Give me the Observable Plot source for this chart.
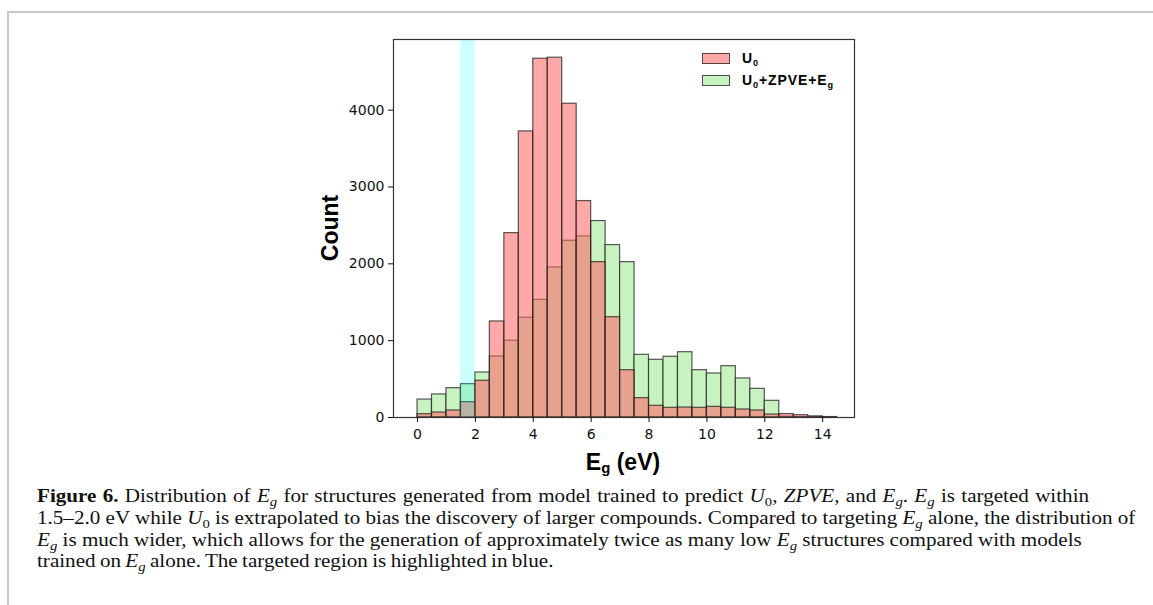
<!DOCTYPE html>
<html>
<head>
<meta charset="utf-8">
<script src="https://cdn.jsdelivr.net/npm/d3@7"></script>
<script src="https://cdn.jsdelivr.net/npm/@observablehq/plot@0.6"></script>
<style>
  html, body { margin: 0; padding: 0; background: #fff; }
  body { width: 1153px; height: 605px; position: relative; overflow: hidden; }
  #border { position: absolute; left: 7px; top: 11px; width: 1200px; height: 700px;
            border-top: 2px solid #c8c8c8; border-left: 2px solid #c8c8c8; }
  #chart { position: absolute; left: 0; top: 0; }
  .lbl { position: absolute; font-family: "Liberation Sans", Arial, sans-serif; font-weight: bold; color: #000; white-space: nowrap; }
  .lbl sub { font-size: 65%; vertical-align: -0.25em; line-height: 0; }
  #ylabel { left: 330px; top: 228px; font-size: 23px; transform: translate(-50%, -50%) rotate(-90deg); }
  #xlabel { left: 623px; top: 462px; font-size: 23px; transform: translate(-50%, -50%); }
  .legrow { position: absolute; left: 702px; height: 14px; display: flex; align-items: center; }
  .sw { width: 26px; height: 9px; border: 1.3px solid rgba(30,30,30,0.75); }
  .legtxt { margin-left: 12px; font-family: "Liberation Sans", Arial, sans-serif; font-weight: bold; font-size: 14px; letter-spacing: 0.9px; }
  .legtxt sub { font-size: 65%; vertical-align: -0.3em; line-height: 0; }
  #caption { position: absolute; left: 37px; top: 486px; width: 980px;
             font-family: "Liberation Serif", "Times New Roman", serif; font-size: 18.5px; line-height: 21.8px; color: #111; white-space: nowrap;
             transform: scaleX(1.14); transform-origin: 0 0; }
  #caption span { display: block; }
  #caption sub { font-size: 70%; vertical-align: -0.3em; line-height: 0; }
</style>
</head>
<body>
<div id="border"></div>
<div id="chart"></div>
<div id="ylabel" class="lbl">Count</div>
<div id="xlabel" class="lbl">E<sub>g</sub> (eV)</div>
<div class="legrow" style="top:51px"><div class="sw" style="background:#ffa8a8"></div><span class="legtxt">U<sub>0</sub></span></div>
<div class="legrow" style="top:73px"><div class="sw" style="background:#c8f2c0"></div><span class="legtxt">U<sub>0</sub>+ZPVE+E<sub>g</sub></span></div>
<div id="caption">
<span style="word-spacing:0.9px"><b>Figure 6.</b> Distribution of <i>E<sub>g</sub></i> for structures generated from model trained to predict <i>U</i><sub>0</sub>, <i>ZPVE</i>, and <i>E<sub>g</sub></i>. <i>E<sub>g</sub></i> is targeted within</span>
<span>1.5–2.0 eV while <i>U</i><sub>0</sub> is extrapolated to bias the discovery of larger compounds. Compared to targeting <i>E<sub>g</sub></i> alone, the distribution of</span>
<span><i>E<sub>g</sub></i> is much wider, which allows for the generation of approximately twice as many low <i>E<sub>g</sub></i> structures compared with models</span>
<span style="word-spacing:-0.8px">trained on <i>E<sub>g</sub></i> alone. The targeted region is highlighted in blue.</span>
</div>
<script>
// Bin lower edges (eV), bin width 0.5 eV
const binStart = [0, 0.5, 1, 1.5, 2, 2.5, 3, 3.5, 4, 4.5, 5, 5.5, 6, 6.5, 7, 7.5, 8, 8.5, 9, 9.5, 10, 10.5, 11, 11.5, 12, 12.5, 13, 13.5, 14];
const binWidth = 0.5;
// Counts: model U0
const countU0 = [43, 65, 91, 200, 478, 1250, 2400, 3724, 4670, 4683, 4084, 2817, 2022, 1306, 616, 252, 152, 126, 130, 126, 139, 126, 104, 91, 39, 45, 30, 15, 6];
// Counts: model U0+ZPVE+Eg
const countCombined = [234, 300, 382, 434, 586, 794, 1000, 1298, 1532, 1953, 2300, 2357, 2557, 2244, 2022, 816, 751, 790, 850, 616, 573, 668, 508, 373, 217, 10, 5, 2, 1];
// Targeted region
const targetRange = [1.5, 2.0];
const xTicks = [0, 2, 4, 6, 8, 10, 12, 14];
const yTicks = [0, 1000, 2000, 3000, 4000];

const dataU0 = binStart.map((s, i) => ({x1: s, x2: s + binWidth, y: countU0[i]}));
const dataComb = binStart.map((s, i) => ({x1: s, x2: s + binWidth, y: countCombined[i]}));

const chart = Plot.plot({
  width: 1153,
  height: 477,
  marginLeft: 393,
  marginRight: 299,
  marginTop: 39,
  marginBottom: 60,
  style: {fontFamily: "DejaVu Sans, sans-serif", fontSize: "14px", color: "#111", background: "transparent"},
  x: {domain: [-0.83, 15.1], label: null},
  y: {domain: [0, 4920], label: null},
  marks: [
    Plot.rectY(dataComb, {x1: "x1", x2: "x2", y: "y", fill: "#c8f2c0", stroke: "#222", strokeOpacity: 0.75, strokeWidth: 1.2}),
    Plot.rectY(dataU0, {x1: "x1", x2: "x2", y: "y", fill: "#ff6161", fillOpacity: 0.55, stroke: "#222", strokeOpacity: 0.75, strokeWidth: 1.2}),
    Plot.rect([targetRange], {x1: d => d[0], x2: d => d[1], fill: "cyan", fillOpacity: 0.2}),
    Plot.frame({stroke: "#333", strokeWidth: 1.2}),
    Plot.axisX({ticks: xTicks, tickFormat: d => String(d), tickSize: 5, tickPadding: 7, label: null, fontSize: 14}),
    Plot.axisY({ticks: yTicks, tickFormat: d => String(d), tickSize: 5, tickPadding: 4, label: null, fontSize: 14})
  ]
});
document.getElementById("chart").appendChild(chart);
</script>
</body>
</html>
